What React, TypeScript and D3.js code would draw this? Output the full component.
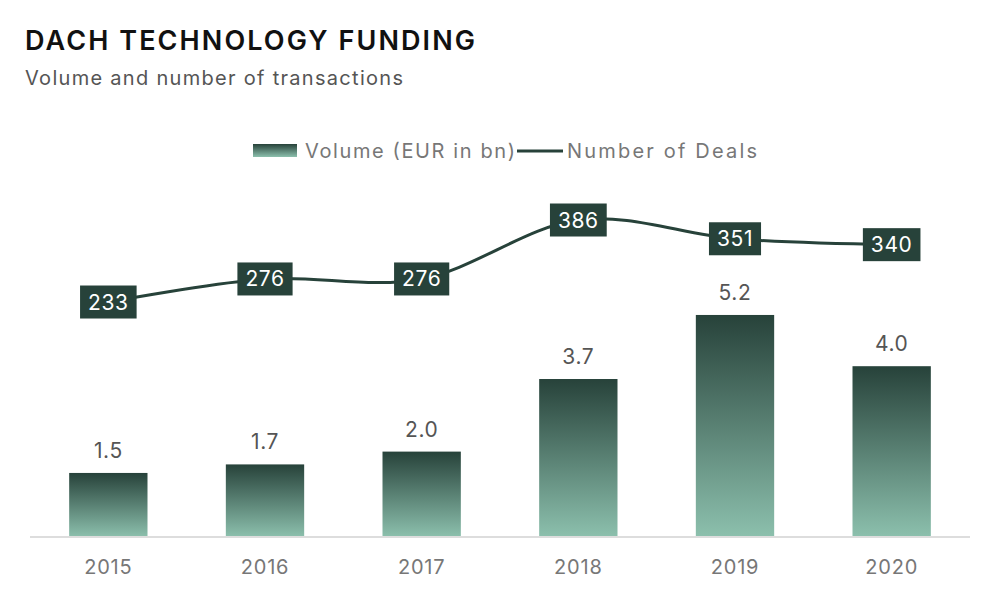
import React from "react";
import * as d3 from "d3";

const years = ["2015", "2016", "2017", "2018", "2019", "2020"];
const volume = [1.5, 1.7, 2.0, 3.7, 5.2, 4.0];
const deals = [233, 276, 276, 386, 351, 340];

const W = 1000;
const H = 605;
const FONT = "Inter, 'Open Sans', sans-serif";
const DARK = "#27423a";
const LIGHT = "#8cc0ad";

function textWidth(t: string, size: number, spacing = 0) {
  if (typeof document === "undefined") return t.length * size * 0.6;
  const c = document.createElement("canvas");
  const ctx = c.getContext("2d");
  if (!ctx) return t.length * size * 0.6;
  ctx.font = `400 ${size}px Inter`;
  return ctx.measureText(t).width + spacing * t.length;
}

export default function App() {
  const x = d3.scaleBand<string>().domain(years).range([30, 970]).paddingInner(0.5).paddingOuter(0.25);
  const y = d3.scaleLinear().domain([0, 6]).range([537, 537 - 6 * 42.7]);
  const y2 = d3.scaleLinear().domain([200, 400]).range([319.7, 212.5]);
  const cx = (d: string) => (x(d) ?? 0) + x.bandwidth() / 2;

  const line = d3
    .line<number>()
    .x((_, i) => cx(years[i]))
    .y((d) => y2(d))
    .curve(d3.curveCardinal.tension(0));

  const labelSize = 21;
  const labelSpacing = 0.6;

  return (
    <svg width={W} height={H} style={{ position: "absolute", left: 0, top: 0, background: "#fff" }} fontFamily={FONT}>
      <defs>
        <linearGradient id="barGrad" x1="0" y1="0" x2="0" y2="1">
          <stop offset="0" stopColor={DARK} />
          <stop offset="1" stopColor={LIGHT} />
        </linearGradient>
      </defs>
      <rect width={W} height={H} fill="#fff" />
      <text x={25} y={50} fontSize={27} fontWeight={600} fill="#111" textLength={450} lengthAdjust="spacing">
        DACH TECHNOLOGY FUNDING
      </text>
      <text x={25} y={85} fontSize={20} fill="#555" textLength={378} lengthAdjust="spacing">
        Volume and number of transactions
      </text>

      {/* legend */}
      <rect x={253} y={144} width={44} height={13} fill="url(#barGrad)" />
      <text x={305} y={158} fontSize={20} fill="#777" textLength={210} lengthAdjust="spacing">
        Volume (EUR in bn)
      </text>
      <line x1={517} x2={563} y1={151} y2={151} stroke={DARK} strokeWidth={3} />
      <text x={567} y={158} fontSize={20} fill="#777" textLength={190} lengthAdjust="spacing">
        Number of Deals
      </text>

      {/* bars */}
      {years.map((yr, i) => (
        <g key={yr}>
          <rect x={x(yr)} y={y(volume[i])} width={x.bandwidth()} height={y(0) - y(volume[i])} fill="url(#barGrad)" />
          <text x={cx(yr)} y={y(volume[i]) - 15} textAnchor="middle" fontSize={labelSize} fill="#555" letterSpacing={labelSpacing}>
            {volume[i].toFixed(1)}
          </text>
          <text x={cx(yr)} y={574} textAnchor="middle" fontSize={20} fill="#777" letterSpacing={0.8}>
            {yr}
          </text>
        </g>
      ))}

      <line x1={30} x2={970} y1={537} y2={537} stroke="#ddd" strokeWidth={2} />

      {/* line */}
      <path d={line(deals) ?? ""} fill="none" stroke={DARK} strokeWidth={3} />
      {deals.map((v, i) => {
        const tw = textWidth(String(v), labelSize, labelSpacing);
        const bw = tw + 16;
        return (
          <g key={i}>
            <rect x={cx(years[i]) - bw / 2} y={y2(v) - 16.5} width={bw} height={33} fill={DARK} />
            <text x={cx(years[i])} y={y2(v) + 7.5} textAnchor="middle" fontSize={labelSize} fill="#fff" letterSpacing={labelSpacing}>
              {v}
            </text>
          </g>
        );
      })}
    </svg>
  );
}
